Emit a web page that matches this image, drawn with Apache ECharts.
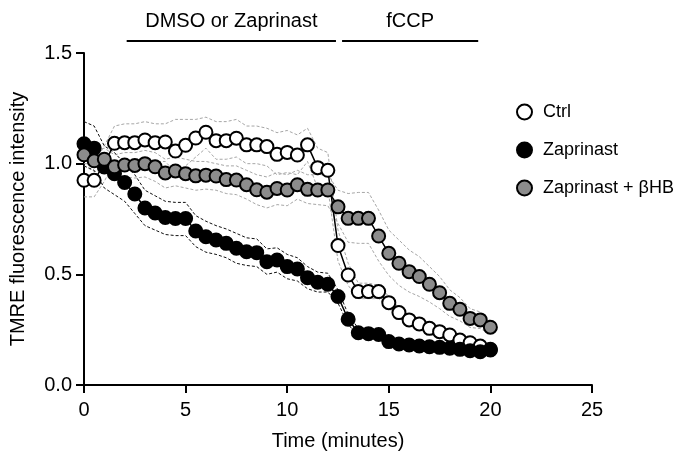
<!DOCTYPE html>
<html><head><meta charset="utf-8">
<script src="https://cdn.jsdelivr.net/npm/echarts@6/dist/echarts.min.js"></script>
<style>html,body{margin:0;padding:0;background:#fff}#c{width:699px;height:463px}</style>
</head><body><div id="c"></div>
<script>
// time points (minutes)
const times = [0,0.5,1,1.5,2,2.5,3,3.5,4,4.5,5,5.5,6,6.5,7,7.5,8,8.5,9,9.5,10,10.5,11,11.5,12,12.5,13,13.5,14,14.5,15,15.5,16,16.5,17,17.5,18,18.5,19,19.5,20];
// mean TMRE intensity
const ctrl = [0.925,0.925,1.00,1.092,1.095,1.095,1.107,1.095,1.098,1.057,1.083,1.116,1.142,1.104,1.104,1.115,1.085,1.085,1.077,1.042,1.051,1.039,1.085,0.982,0.970,0.630,0.497,0.422,0.422,0.422,0.372,0.327,0.294,0.276,0.256,0.241,0.226,0.203,0.191,0.176,0.161];
const zap = [1.090,1.070,0.985,0.955,0.915,0.863,0.800,0.777,0.757,0.752,0.752,0.696,0.670,0.655,0.640,0.618,0.602,0.598,0.557,0.565,0.535,0.524,0.485,0.464,0.455,0.400,0.297,0.236,0.232,0.228,0.196,0.185,0.181,0.176,0.173,0.170,0.166,0.161,0.155,0.150,0.158];
const zapHB = [1.040,1.013,1.020,0.986,0.994,0.992,1.000,0.986,0.958,0.967,0.955,0.945,0.948,0.944,0.928,0.926,0.905,0.882,0.871,0.888,0.881,0.905,0.884,0.881,0.881,0.805,0.753,0.753,0.753,0.673,0.595,0.550,0.512,0.490,0.455,0.417,0.369,0.342,0.301,0.294,0.261];
// error band edges (mean +/- SEM)
const ctrlHi = [1.00,1.00,1.08,1.17,1.18,1.18,1.19,1.18,1.18,1.20,1.20,1.20,1.21,1.19,1.19,1.20,1.17,1.17,1.16,1.14,1.15,1.13,1.16,1.07,1.05,0.70,0.55,0.46,0.46,0.45,0.40,0.35,0.315,0.295,0.272,0.255,0.240,0.216,0.203,0.188,0.172];
const ctrlLo = [0.85,0.85,0.92,1.01,1.01,1.01,1.02,1.01,1.01,0.96,0.99,1.03,1.07,1.02,1.02,1.03,1.00,1.00,0.99,0.95,0.96,0.95,1.01,0.89,0.89,0.56,0.45,0.39,0.39,0.39,0.345,0.305,0.275,0.258,0.240,0.227,0.212,0.190,0.180,0.165,0.150];
const zapHi = [1.19,1.17,1.08,1.05,1.00,0.95,0.88,0.855,0.83,0.825,0.825,0.765,0.74,0.72,0.705,0.685,0.665,0.66,0.615,0.62,0.59,0.575,0.535,0.51,0.505,0.43,0.32,0.255,0.25,0.245,0.212,0.20,0.195,0.19,0.186,0.182,0.178,0.172,0.166,0.161,0.169];
const zapLo = [0.99,0.97,0.89,0.86,0.83,0.775,0.72,0.70,0.68,0.675,0.675,0.625,0.60,0.59,0.575,0.55,0.54,0.535,0.50,0.51,0.48,0.47,0.435,0.42,0.42,0.37,0.275,0.217,0.214,0.211,0.18,0.17,0.167,0.162,0.16,0.158,0.154,0.15,0.144,0.139,0.147];
const zapHBHi = [1.09,1.06,1.07,1.04,1.05,1.05,1.06,1.05,1.02,1.03,1.02,1.01,1.01,1.00,0.99,0.99,0.97,0.95,0.94,0.96,0.95,0.97,0.95,0.95,0.95,0.88,0.865,0.87,0.87,0.79,0.70,0.655,0.61,0.58,0.535,0.49,0.43,0.395,0.345,0.33,0.29];
const zapHBLo = [0.99,0.965,0.97,0.93,0.94,0.935,0.94,0.92,0.89,0.90,0.89,0.88,0.885,0.88,0.865,0.86,0.84,0.815,0.80,0.815,0.81,0.84,0.82,0.815,0.81,0.73,0.645,0.64,0.64,0.56,0.495,0.45,0.42,0.40,0.375,0.345,0.31,0.29,0.26,0.255,0.23];
// axis ticks
const xTicks = [0,5,10,15,20,25];
const yTicks = [0.0,0.5,1.0,1.5];
// treatment annotations (minutes)
const treatLabels = ['DMSO or Zaprinast','fCCP'];
const treatStart = [2.1,12.7];
const treatEnd = [12.4,19.4];

const FONT = "'Liberation Sans', Arial, Helvetica, sans-serif";
const pair = arr => times.map((t,i)=>[t, arr[i]]);

function band(arr, color){
  return {type:'line', data:pair(arr), symbol:'none', silent:true, z:1,
    lineStyle:{color:color, width:1, type:[3,2]}};
}
function main(name, arr, fill){
  return {name:name, type:'line', data:pair(arr), symbol:'circle', symbolSize:13, z:3,
    lineStyle:{color:'#000', width:1.5},
    itemStyle:{color:fill, borderColor:'#000', borderWidth:2}};
}

const chart = echarts.init(document.getElementById('c'), null, {renderer:'canvas'});
chart.setOption({
  animation:false,
  backgroundColor:'#fff',
  textStyle:{fontFamily:FONT},
  grid:{left:82, top:53, width:510, height:332, containLabel:false},
  xAxis:{type:'value', min:xTicks[0], max:xTicks[xTicks.length-1], interval:5,
    name:'Time (minutes)', nameLocation:'middle', nameGap:46,
    nameTextStyle:{fontSize:20, color:'#000', fontFamily:FONT},
    axisLine:{show:true, onZero:false, lineStyle:{color:'#000', width:2}},
    axisTick:{show:true, length:8, lineStyle:{color:'#000', width:2}},
    axisLabel:{fontSize:20, color:'#000', margin:15, fontFamily:FONT},
    splitLine:{show:false}},
  yAxis:{type:'value', min:yTicks[0], max:yTicks[yTicks.length-1], interval:0.5,
    name:'TMRE fluorescence intensity', nameLocation:'middle', nameGap:56, nameRotate:90,
    nameTextStyle:{fontSize:20, color:'#000', fontFamily:FONT},
    axisLine:{show:true, onZero:false, lineStyle:{color:'#000', width:2}},
    axisTick:{show:true, length:8, lineStyle:{color:'#000', width:2}},
    axisLabel:{fontSize:20, color:'#000', margin:12, fontFamily:FONT, formatter:v=>v.toFixed(1)},
    splitLine:{show:false}},
  legend:{orient:'vertical', left:511, top:98, itemGap:20, itemWidth:15, itemHeight:15,
    textStyle:{fontSize:18, color:'#000', fontFamily:FONT, padding:[0,0,0,6]},
    data:[
      {name:'Ctrl', icon:'circle', itemStyle:{color:'#fff', borderColor:'#000', borderWidth:2}},
      {name:'Zaprinast', icon:'circle', itemStyle:{color:'#000', borderColor:'#000', borderWidth:2}},
      {name:'Zaprinast + βHB', icon:'circle', itemStyle:{color:'#8c8c8c', borderColor:'#000', borderWidth:2}}
    ]},
  series:[
    band(ctrlHi,'#a6a6a6'), band(ctrlLo,'#a6a6a6'),
    band(zapHBHi,'#a6a6a6'), band(zapHBLo,'#a6a6a6'),
    band(zapHi,'#111'), band(zapLo,'#111'),
    main('Ctrl', ctrl, '#fff'),
    main('Zaprinast', zap, '#000'),
    main('Zaprinast + βHB', zapHB, '#8c8c8c')
  ]
});

// treatment bars above the plot
const g = [];
for (let i=0;i<treatLabels.length;i++){
  const p0 = chart.convertToPixel({gridIndex:0},[treatStart[i], 1.5]);
  const p1 = chart.convertToPixel({gridIndex:0},[treatEnd[i], 1.5]);
  const yLine = 41, yText = 21;
  g.push({type:'line', shape:{x1:p0[0], y1:yLine, x2:p1[0], y2:yLine}, style:{stroke:'#000', lineWidth:2}});
  g.push({type:'text', x:(p0[0]+p1[0])/2, y:yText, style:{text:treatLabels[i], fill:'#000', font:'20px '+FONT, textAlign:'center', textVerticalAlign:'middle'}});
}
chart.setOption({graphic:g});
</script>
</body></html>
